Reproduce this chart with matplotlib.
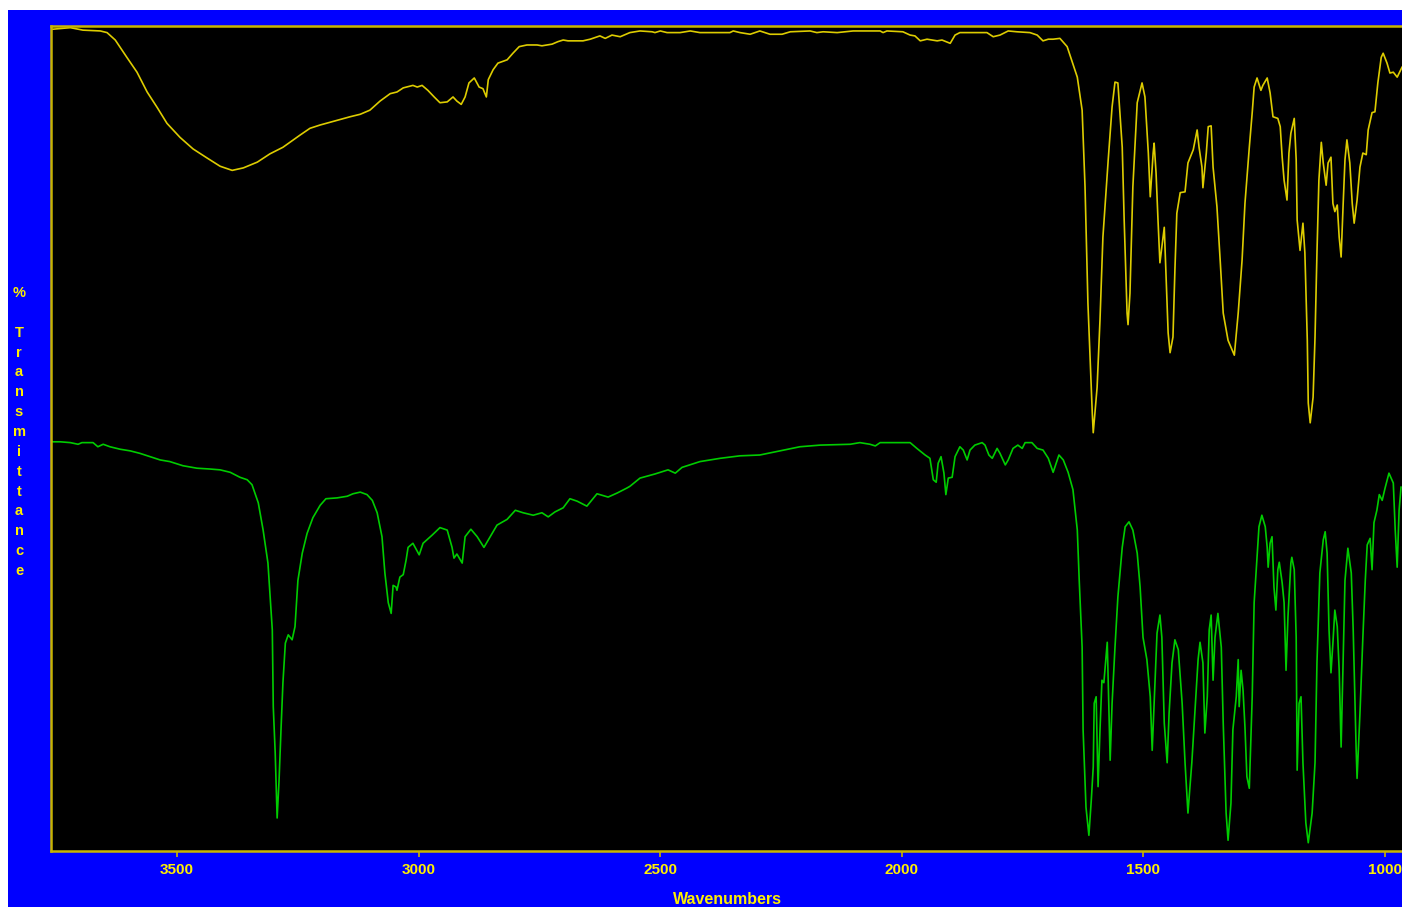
import matplotlib
matplotlib.use("Agg")
import matplotlib.pyplot as plt
from matplotlib.patches import Rectangle

# ---------------- data (wavenumber cm-1, % transmittance) ----------------
top_wn = [3759, 3721, 3695, 3659, 3645, 3628, 3604, 3583, 3562, 3541, 3521, 3494, 3467, 3438,
          3411, 3386, 3363, 3334, 3308, 3281, 3245, 3225, 3204, 3173, 3142, 3121, 3101, 3080,
          3059, 3045, 3032, 3012, 3003, 2993, 2981, 2968, 2956, 2941, 2929, 2921, 2912, 2904,
          2896, 2885, 2875, 2867, 2860, 2856, 2846, 2836, 2817, 2805, 2792, 2776, 2755, 2745,
          2724, 2712, 2701, 2691, 2660, 2645, 2625, 2614, 2600, 2583, 2563, 2542, 2517, 2511,
          2500, 2486, 2459, 2438, 2418, 2391, 2356, 2349, 2335, 2314, 2294, 2273, 2248, 2231,
          2190, 2176, 2163, 2134, 2101, 2045, 2039, 2031, 1998, 1983, 1973, 1962, 1948, 1927,
          1917, 1900, 1890, 1880, 1853, 1824, 1811, 1797, 1780, 1762, 1735, 1720, 1708, 1697,
          1687, 1673, 1658, 1637, 1627, 1621, 1615, 1606, 1604, 1596, 1590, 1584, 1573, 1565,
          1559, 1553, 1544, 1540, 1534, 1532, 1528, 1522, 1513, 1503, 1497, 1490, 1486, 1480,
          1478, 1474, 1470, 1466, 1462, 1457, 1453, 1449, 1445, 1439, 1435, 1431, 1424, 1414,
          1408, 1397, 1389, 1385, 1379, 1377, 1370, 1366, 1360, 1356, 1348, 1341, 1335, 1325,
          1312, 1304, 1296, 1290, 1281, 1275, 1271, 1265, 1257, 1253, 1244, 1238, 1232, 1222,
          1217, 1213, 1209, 1203, 1199, 1195, 1188, 1184, 1182, 1176, 1170, 1166, 1161, 1159,
          1155, 1149, 1145, 1141, 1137, 1132, 1128, 1122, 1118, 1112, 1108, 1104, 1099, 1095,
          1091, 1087, 1083, 1079, 1073, 1068, 1064, 1058, 1052, 1046, 1039, 1035, 1027, 1021,
          1015, 1008, 1004, 996, 990, 983, 975, 965]
top_t = [99.6, 99.8, 99.5, 99.4, 99.2, 98.3, 96.2, 94.4, 92.0, 90.1, 88.2, 86.5, 85.1, 84.0,
         83.0, 82.5, 82.8, 83.5, 84.5, 85.3, 86.8, 87.6, 88.0, 88.5, 89.0, 89.3, 89.8, 90.9,
         91.8, 92.0, 92.5, 92.8, 92.6, 92.8, 92.2, 91.4, 90.7, 90.8, 91.4, 90.9, 90.5, 91.4,
         93.1, 93.7, 92.6, 92.4, 91.4, 93.5, 94.7, 95.5, 95.9, 96.7, 97.5, 97.7, 97.7, 97.6,
         97.8, 98.1, 98.3, 98.2, 98.2, 98.4, 98.8, 98.5, 98.9, 98.7, 99.2, 99.4, 99.3, 99.2,
         99.4, 99.2, 99.2, 99.4, 99.2, 99.2, 99.2, 99.4, 99.2, 99.0, 99.4, 99.0, 99.0, 99.3,
         99.4, 99.2, 99.3, 99.2, 99.4, 99.4, 99.2, 99.4, 99.3, 98.9, 98.8, 98.2, 98.4, 98.2,
         98.3, 97.9, 98.9, 99.2, 99.2, 99.2, 98.7, 98.9, 99.4, 99.3, 99.2, 98.9, 98.2, 98.4,
         98.4, 98.5, 97.5, 93.8, 89.8, 80.5, 66.4, 53.1, 50.7, 56.2, 64.4, 74.4, 83.8, 90.2,
         93.2, 93.1, 85.3, 76.5, 65.2, 63.8, 67.6, 80.5, 90.7, 93.1, 91.4, 84.6, 79.3, 84.6,
         85.8, 82.2, 76.5, 71.3, 73.2, 75.6, 69.2, 62.8, 60.4, 62.3, 70.4, 77.3, 79.8, 79.9,
         83.4, 85.0, 87.4, 85.3, 82.9, 80.4, 84.6, 87.8, 87.9, 82.9, 78.1, 71.3, 65.2, 61.9,
         60.1, 65.2, 71.6, 78.5, 85.3, 89.5, 92.6, 93.7, 92.2, 92.8, 93.7, 91.9, 89.0, 88.8,
         87.8, 84.1, 81.3, 78.9, 84.6, 87.0, 88.8, 83.8, 76.5, 72.8, 76.1, 72.5, 61.9, 54.3,
         51.9, 55.0, 62.3, 72.5, 81.3, 85.9, 83.4, 80.7, 83.4, 84.1, 78.5, 77.5, 78.3, 74.4,
         72.0, 78.1, 83.8, 86.2, 83.4, 78.5, 76.1, 78.9, 82.9, 84.6, 84.4, 87.4, 89.5, 89.6,
         93.1, 96.2, 96.7, 95.5, 94.3, 94.4, 93.8, 95.0]

bot_wn = [3761, 3757, 3742, 3721, 3705, 3697, 3674, 3664, 3653, 3639, 3618, 3597, 3577, 3556,
          3535, 3515, 3488, 3459, 3432, 3411, 3390, 3370, 3355, 3345, 3332, 3322, 3312, 3303,
          3301, 3297, 3293, 3289, 3285, 3281, 3276, 3270, 3262, 3256, 3250, 3241, 3231, 3219,
          3204, 3192, 3169, 3148, 3136, 3121, 3107, 3096, 3086, 3076, 3070, 3063, 3057, 3053,
          3047, 3045, 3039, 3032, 3026, 3022, 3012, 2999, 2991, 2972, 2956, 2941, 2931, 2927,
          2921, 2910, 2904, 2892, 2879, 2865, 2852, 2838, 2817, 2800, 2784, 2763, 2745, 2732,
          2718, 2701, 2687, 2672, 2652, 2631, 2608, 2589, 2569, 2563, 2542, 2511, 2484, 2469,
          2455, 2418, 2376, 2335, 2294, 2252, 2211, 2169, 2107, 2087, 2066, 2055, 2045, 1983,
          1969, 1952, 1942, 1935, 1929, 1925, 1919, 1913, 1909, 1904, 1896, 1890, 1880, 1873,
          1865, 1859, 1849, 1834, 1828, 1820, 1813, 1803, 1797, 1786, 1780, 1770, 1760, 1751,
          1745, 1731, 1720, 1708, 1697, 1687, 1675, 1666, 1656, 1646, 1637, 1633, 1627, 1625,
          1619, 1613, 1608, 1604, 1602, 1598, 1594, 1590, 1586, 1582, 1575, 1573, 1569, 1565,
          1559, 1553, 1544, 1538, 1530, 1522, 1513, 1507, 1501, 1493, 1486, 1482, 1476, 1472,
          1466, 1462, 1457, 1451, 1447, 1441, 1435, 1428, 1420, 1414, 1408, 1400, 1393, 1387,
          1383, 1377, 1373, 1368, 1364, 1360, 1356, 1352, 1346, 1339, 1335, 1329, 1325, 1319,
          1315, 1308, 1304, 1302, 1298, 1294, 1290, 1286, 1281, 1275, 1271, 1265, 1261, 1255,
          1248, 1244, 1242, 1238, 1234, 1230, 1226, 1222, 1219, 1213, 1209, 1205, 1201, 1195,
          1193, 1188, 1184, 1182, 1178, 1174, 1170, 1164, 1159, 1151, 1145, 1141, 1135, 1128,
          1124, 1120, 1116, 1112, 1108, 1104, 1099, 1095, 1091, 1087, 1083, 1077, 1070, 1066,
          1060, 1058, 1052, 1046, 1041, 1037, 1031, 1027, 1023, 1017, 1012, 1006, 1000, 992,
          983, 979, 975, 971, 967]
bot_t = [49.7, 49.6, 49.6, 49.5, 49.3, 49.5, 49.5, 49.0, 49.3, 49.0, 48.7, 48.5, 48.2, 47.8,
         47.4, 47.2, 46.7, 46.4, 46.3, 46.2, 45.9, 45.3, 45.0, 44.4, 42.2, 38.9, 34.9, 26.8,
         17.5, 11.9, 4.0, 8.6, 14.7, 20.4, 25.2, 26.2, 25.6, 27.2, 32.8, 36.1, 38.5, 40.4,
         41.9, 42.7, 42.8, 43.0, 43.3, 43.5, 43.2, 42.5, 41.0, 38.1, 33.7, 30.1, 28.8, 32.2,
         32.0, 31.6, 33.2, 33.5, 35.3, 36.8, 37.3, 35.9, 37.3, 38.3, 39.2, 38.9, 36.8, 35.5,
         36.0, 34.9, 38.1, 39.0, 38.1, 36.8, 38.1, 39.5, 40.2, 41.3, 41.0, 40.7, 41.0, 40.5,
         41.1, 41.6, 42.7, 42.4, 41.8, 43.3, 42.9, 43.4, 44.0, 44.2, 45.2, 45.7, 46.2, 45.8,
         46.5, 47.2, 47.6, 47.9, 48.0, 48.5, 49.0, 49.2, 49.3, 49.5, 49.3, 49.1, 49.5, 49.5,
         48.8, 48.0, 47.6, 45.0, 44.7, 47.0, 47.8, 45.8, 43.2, 45.2, 45.3, 47.8, 49.0, 48.6,
         47.4, 48.6, 49.2, 49.5, 49.2, 48.0, 47.6, 48.8, 48.2, 46.8, 47.4, 48.8, 49.2, 48.8,
         49.5, 49.5, 48.8, 48.6, 47.6, 45.9, 48.0, 47.4, 45.9, 43.8, 38.9, 32.8, 24.7, 14.7,
         5.3, 1.9, 6.2, 10.2, 17.9, 18.7, 7.8, 14.7, 20.7, 20.4, 25.3, 20.4, 11.0, 17.9,
         24.7, 30.8, 36.8, 39.3, 39.9, 38.9, 36.1, 32.0, 25.9, 23.2, 18.7, 12.2, 20.7, 26.4,
         28.6, 25.9, 15.5, 10.7, 16.7, 22.8, 25.6, 24.4, 17.9, 10.7, 4.6, 10.7, 17.5, 23.2,
         25.3, 22.8, 14.3, 18.7, 26.8, 28.6, 20.7, 25.9, 28.8, 24.7, 15.5, 4.6, 1.3, 5.8,
         14.7, 18.7, 23.2, 17.5, 21.9, 19.5, 15.0, 9.0, 7.6, 18.7, 30.1, 35.6, 39.3, 40.7,
         39.3, 36.8, 34.4, 37.3, 38.1, 32.0, 29.2, 34.1, 35.0, 32.5, 30.1, 21.9, 28.4, 34.9,
         35.6, 34.1, 25.9, 9.8, 17.9, 18.7, 10.7, 3.4, 1.0, 4.6, 10.7, 22.8, 33.7, 37.7,
         38.7, 36.1, 26.8, 21.6, 25.2, 29.2, 27.2, 21.9, 12.6, 22.8, 32.8, 36.7, 33.7, 26.8,
         12.6, 8.8, 16.7, 25.9, 32.8, 37.1, 37.9, 34.1, 39.8, 41.3, 43.2, 42.5, 44.0, 45.8,
         44.6, 38.9, 34.4, 41.3, 44.1]

x_ticks = [3500, 3000, 2500, 2000, 1500, 1000]
x_label = "Wavenumbers"
y_label_chars = ["%", " ", "T", "r", "a", "n", "s", "m", "i", "t", "t", "a", "n", "c", "e"]

# ---------------- styling ----------------
YELLOW_LINE = "#ddcc00"
FRAME = "#c8b400"
TEXT_YEL = "#fff000"
GREEN = "#00cc00"
BLUE = "#0000ff"
FONT = ["Liberation Sans Narrow", "Liberation Sans", "DejaVu Sans"]

W, H = 1402, 907
fig = plt.figure(figsize=(W / 100, H / 100), dpi=100, facecolor="white")
bg = Rectangle((8 / W, 0), 1 - 8 / W, (H - 10) / H, transform=fig.transFigure,
               facecolor=BLUE, edgecolor="none", zorder=-10)
fig.add_artist(bg)

ax = fig.add_axes([51 / W, (H - 851) / H, (W - 51) / W, (851 - 26) / H])
ax.set_zorder(5)
ax.set_facecolor("black")
ax.plot(top_wn, top_t, color=YELLOW_LINE, lw=1.2)
ax.plot(bot_wn, bot_t, color=GREEN, lw=1.2)
ax.set_xlim(3761, 965)
ax.set_ylim(0, 100)

for side in ["left", "top", "bottom"]:
    ax.spines[side].set_color(FRAME)
    ax.spines[side].set_linewidth(1.8)
ax.spines["right"].set_visible(False)

ax.set_yticks([])
ax.set_xticks(x_ticks)
ax.set_xticklabels([str(t) for t in x_ticks])
ax.tick_params(axis="x", direction="out", length=4, width=1.2, color=FRAME,
               labelcolor=TEXT_YEL, pad=5)
for lab in ax.get_xticklabels():
    lab.set_fontfamily(FONT)
    lab.set_fontweight("bold")
    lab.set_fontsize(11)

fig.text(727 / W, 1 - 900 / H, x_label, ha="center", va="center", color=TEXT_YEL,
         fontsize=11.5, fontweight="bold", family=FONT, zorder=6)

for i, ch in enumerate(y_label_chars):
    fig.text(19 / W, 1 - (293 + i * 19.86) / H, ch, ha="center", va="center",
             color=TEXT_YEL, fontsize=10.5, fontweight="bold", family=FONT, zorder=6)

fig.savefig("out.png", dpi=100, facecolor=fig.get_facecolor())
